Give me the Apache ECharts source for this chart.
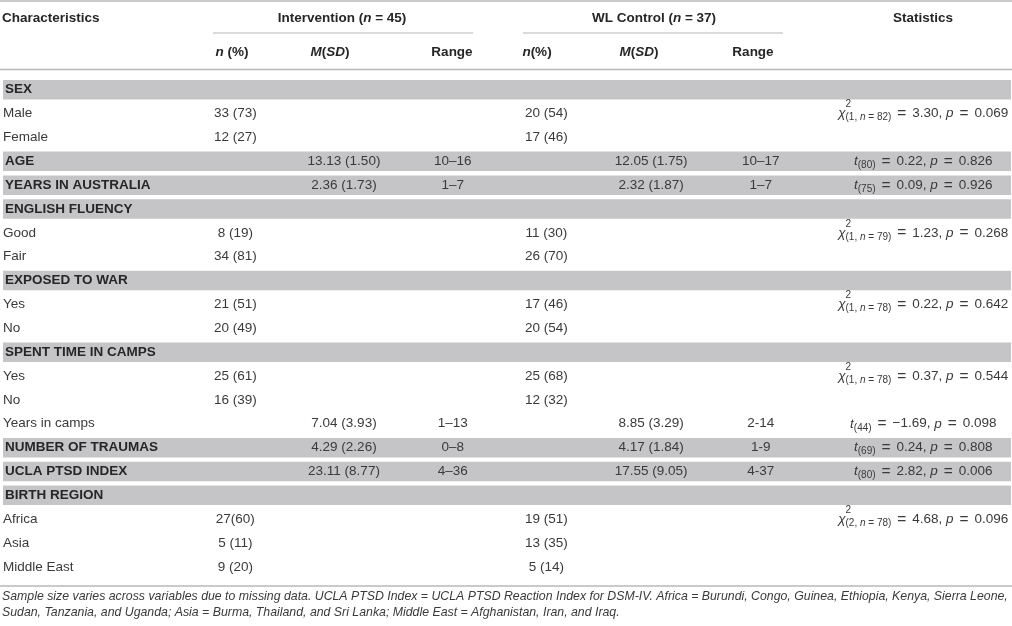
<!DOCTYPE html>
<html><head><meta charset="utf-8">
<script src="https://cdn.jsdelivr.net/npm/echarts@6/dist/echarts.min.js"></script>
<style>html,body{margin:0;padding:0;background:#fff}#c{width:1012px;height:626px}</style>
</head><body><div id="c"></div>
<script>
// ---------------- data ----------------
const rowLabels = ['SEX','Male','Female','AGE','YEARS IN AUSTRALIA','ENGLISH FLUENCY','Good','Fair',
  'EXPOSED TO WAR','Yes','No','SPENT TIME IN CAMPS','Yes','No','Years in camps',
  'NUMBER OF TRAUMAS','UCLA PTSD INDEX','BIRTH REGION','Africa','Asia','Middle East'];
const sectionRows = [0,3,4,5,8,11,15,16,17];

const intN = ['','33 (73)','12 (27)','','','','8 (19)','34 (81)','','21 (51)','20 (49)','','25 (61)','16 (39)','','','','','27(60)','5 (11)','9 (20)'];
const intM = ['','','','13.13 (1.50)','2.36 (1.73)','','','','','','','','','','7.04 (3.93)','4.29 (2.26)','23.11 (8.77)','','','',''];
const intR = ['','','','10–16','1–7','','','','','','','','','','1–13','0–8','4–36','','','',''];
const wlN  = ['','20 (54)','17 (46)','','','','11 (30)','26 (70)','','17 (46)','20 (54)','','25 (68)','12 (32)','','','','','19 (51)','13 (35)','5 (14)'];
const wlM  = ['','','','12.05 (1.75)','2.32 (1.87)','','','','','','','','','','8.85 (3.29)','4.17 (1.84)','17.55 (9.05)','','','',''];
const wlR  = ['','','','10–17','1–7','','','','','','','','','','2-14','1-9','4-37','','','',''];

const statRows = [1,3,4,6,9,12,14,15,16,18];
const statKind = ['chi','t','t','chi','chi','chi','t','t','t','chi'];
const statDf   = ['1, n = 82','80','75','1, n = 79','1, n = 78','1, n = 78','44','69','80','2, n = 78'];
const statVal  = ['3.30','0.22','0.09','1.23','0.22','0.37','−1.69','0.24','2.82','4.68'];
const statP    = ['0.069','0.826','0.926','0.268','0.642','0.544','0.098','0.808','0.006','0.096'];

const footnoteLines = [
  'Sample size varies across variables due to missing data. UCLA PTSD Index = UCLA PTSD Reaction Index for DSM-IV. Africa = Burundi, Congo, Guinea, Ethiopia, Kenya, Sierra Leone,',
  'Sudan, Tanzania, and Uganda; Asia = Burma, Thailand, and Sri Lanka; Middle East = Afghanistan, Iran, and Iraq.'
];

// ---------------- layout & style ----------------
const W = 1012, H = 626;
const FONT = '"Liberation Sans", Arial, Helvetica, sans-serif';
const TXT = '#3a3a3a', BOLD = '#262626', BAND = '#c5c5c7', RULE = '#b8b8b8';
const FS = 13.5, SUB = 10;
const colX = {intN:233, intM:342, intR:451, wlN:545, wlM:650, wlR:760, stat:923};
const gridTop = 77.8, pitch = 23.86;
const gridBottom = H - gridTop - pitch * rowLabels.length;
const bandH = 19.5;

const mctx = document.createElement('canvas').getContext('2d');
function measure(t, size, it, bold) {
  mctx.font = (it ? 'italic ' : 'normal ') + (bold ? 'bold ' : 'normal ') + size + 'px ' + FONT;
  return mctx.measureText(t).width;
}
// place a list of text segments, centered (or left) at x
function segText(segs, x, y, align, color) {
  const ws = segs.map(s => s.noAdvance ? 0 : measure(s.t, s.size || FS, s.it, s.bold) + 2 * (s.pad || 0));
  const total = ws.reduce((a, b) => a + b, 0);
  let cx = align === 'left' ? x : x - total / 2;
  const out = [];
  segs.forEach((s, i) => {
    out.push({
      type: 'text', x: cx + (s.pad || 0), y: y + (s.dy || 0), silent: true,
      style: {
        text: s.t, fill: s.color || color || TXT,
        fontSize: s.size || FS, fontFamily: FONT,
        fontStyle: s.it ? 'italic' : 'normal', fontWeight: s.bold ? 'bold' : 'normal',
        align: 'left', verticalAlign: 'middle', textAlign: 'left', textVerticalAlign: 'middle'
      }
    });
    cx += ws[i];
  });
  return out;
}
const EQ = {t: '=', size: 15.5, pad: 2.2, dy: 0.3};
function statSegs(i) {
  const segs = [{t: statKind[i] === 'chi' ? 'χ' : 't', it: true}];
  if (statKind[i] === 'chi') segs.push({t: '2', size: SUB, dy: -9, noAdvance: true});
  ('(' + statDf[i] + ')').split(/(n)/).forEach(p => { if (p) segs.push({t: p, size: SUB, it: p === 'n', dy: 4}); });
  segs.push({t: ' '}, EQ, {t: ' ' + statVal[i] + ', '});
  segs.push({t: 'p', it: true});
  segs.push({t: ' '}, EQ, {t: ' ' + statP[i]});
  return segs;
}

const cellCols = [
  {vals: intN, x: colX.intN}, {vals: intM, x: colX.intM}, {vals: intR, x: colX.intR},
  {vals: wlN, x: colX.wlN}, {vals: wlM, x: colX.wlM}, {vals: wlR, x: colX.wlR}
];

function renderBand(params, api) {
  const row = api.value(1);
  const p0 = api.coord([0, row]);
  const p1 = api.coord([W, row]);
  return {type: 'rect', shape: {x: p0[0], y: p0[1] - bandH / 2, width: p1[0] - p0[0] - 1, height: bandH},
          style: {fill: BAND}, silent: true};
}
function renderRow(params, api) {
  const row = api.value(1);
  const y = api.coord([0, row])[1];
  let children = [];
  cellCols.forEach(c => {
    const t = c.vals[row];
    if (t) children = children.concat(segText([{t}], api.coord([c.x, row])[0], y, 'center'));
  });
  const si = statRows.indexOf(row);
  if (si >= 0) children = children.concat(segText(statSegs(si), api.coord([colX.stat, row])[0], y, 'center'));
  return {type: 'group', children};
}

// header graphics (pixel layout above the grid)
const B = {bold: true, color: BOLD};
const BI = {bold: true, it: true, color: BOLD};
let graphics = [];
const hY = 18, sY = 52;
graphics = graphics.concat(
  segText([{t: 'Characteristics', ...B}], 2, hY, 'left'),
  segText([{t: 'Intervention (', ...B}, {t: 'n', ...BI}, {t: ' = 45)', ...B}], 342, hY, 'center'),
  segText([{t: 'WL Control (', ...B}, {t: 'n', ...BI}, {t: ' = 37)', ...B}], 654, hY, 'center'),
  segText([{t: 'Statistics', ...B}], 923, hY, 'center'),
  segText([{t: 'n', ...BI}, {t: ' (%)', ...B}], 232, sY, 'center'),
  segText([{t: 'M', ...BI}, {t: '(', ...B}, {t: 'SD', ...BI}, {t: ')', ...B}], 330, sY, 'center'),
  segText([{t: 'Range', ...B}], 452, sY, 'center'),
  segText([{t: 'n', ...BI}, {t: '(%)', ...B}], 537, sY, 'center'),
  segText([{t: 'M', ...BI}, {t: '(', ...B}, {t: 'SD', ...BI}, {t: ')', ...B}], 639, sY, 'center'),
  segText([{t: 'Range', ...B}], 753, sY, 'center')
);
function hline(x1, x2, y, w) {
  return {type: 'line', silent: true, shape: {x1, y1: y, x2, y2: y}, style: {stroke: RULE, lineWidth: w}};
}
graphics.push(hline(0, W, 1, 1.6), hline(213, 473, 33, 1.2), hline(523, 783, 33, 1.2),
              hline(0, W, 69.5, 1.6), hline(0, W, 586, 1.6));
// footnote
const fnSize = 11.5 * 1007 / measure(footnoteLines[0], 11.5, true, false);
footnoteLines.forEach((l, i) => {
  graphics.push({type: 'text', x: 2, y: 597 + i * 16, silent: true,
    style: {text: l, fill: TXT, fontSize: fnSize, fontFamily: FONT, fontStyle: 'italic',
            align: 'left', verticalAlign: 'middle', textAlign: 'left', textVerticalAlign: 'middle'}});
});

const chart = echarts.init(document.getElementById('c'), null, {width: W, height: H});
chart.setOption({
  animation: false,
  backgroundColor: '#ffffff',
  grid: {left: 0, right: 0, top: gridTop, bottom: gridBottom, containLabel: false},
  xAxis: {type: 'value', min: 0, max: W, show: false},
  yAxis: {
    type: 'category', inverse: true, data: rowLabels, z: 10,
    axisLine: {show: false}, axisTick: {show: false}, splitLine: {show: false},
    axisLabel: {
      inside: true, margin: 0, interval: 0,
      formatter: (v, i) => sectionRows.includes(i) ? '{b|' + v + '}' : '{r|' + v + '}',
      rich: {
        b: {fontWeight: 'bold', fontSize: FS, fontFamily: FONT, color: BOLD, padding: [0, 0, 0, 2]},
        r: {fontSize: FS, fontFamily: FONT, color: TXT}
      }
    }
  },
  series: [
    {type: 'custom', z: 1, silent: true, encode: {x: 0, y: 1},
     data: sectionRows.map(r => [0, r]), renderItem: renderBand},
    {type: 'custom', z: 3, silent: true, encode: {x: 0, y: 1},
     data: rowLabels.map((_, i) => [0, i]), renderItem: renderRow}
  ],
  graphic: graphics
});
</script></body></html>
